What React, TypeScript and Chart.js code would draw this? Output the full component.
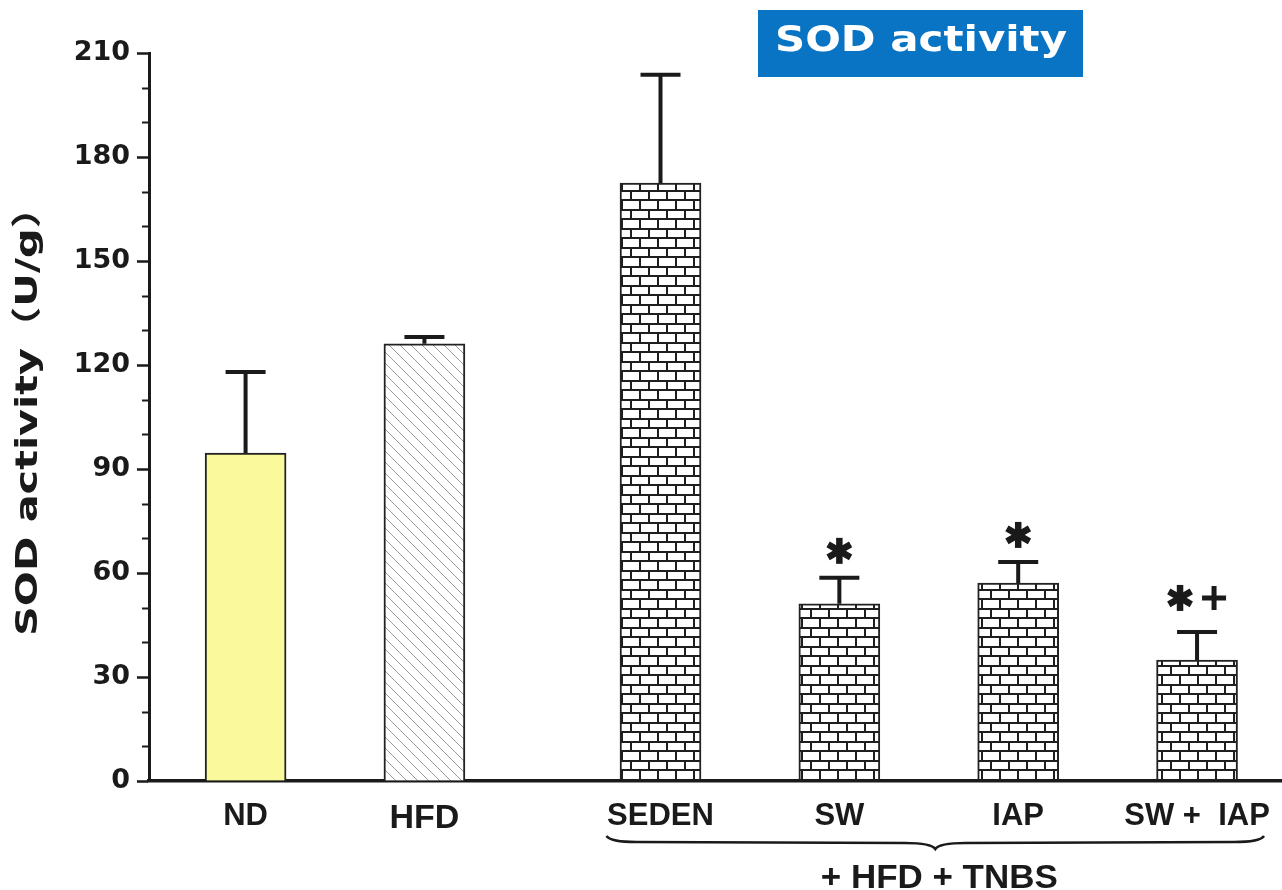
import { useEffect, useRef } from "react";
import { Chart, registerables } from "chart.js";

Chart.register(...registerables);

// Group names and their positions on the (linear) x scale
const groups = ["ND", "HFD", "SEDEN", "SW", "IAP", "SW +  IAP"];
const groupPositions = [0, 1, 2.32, 3.32, 4.32, 5.32];

// SOD activity (U/g): mean and error (upper SD bar)
const sodMeans = [94.6, 126.1, 172.5, 51.1, 57.1, 34.9];
const sodErrors = [23.4, 2.0, 31.2, 7.5, 6.1, 8.1];

// Significance markers above each group
const significance = ["", "", "", "*", "*", "*+"];

const yTicks = [0, 30, 60, 90, 120, 150, 180, 210];
const yMinorStep = 10;

const treatmentLabel = "+ HFD + TNBS";
const yTitle = "SOD activity（U/g）";
const chartTitle = "SOD activity";

const INK = "#1a1a1a";
const SANS = "'Liberation Sans', Arial, sans-serif";
const WIDE = "'DejaVu Sans', 'Noto Sans CJK SC', sans-serif";

function makeHatch(): CanvasPattern | string {
  const c = document.createElement("canvas");
  c.width = 11;
  c.height = 11;
  const g = c.getContext("2d")!;
  g.fillStyle = "#ffffff";
  g.fillRect(0, 0, 11, 11);
  g.strokeStyle = "#9a9a9a";
  g.lineWidth = 1;
  g.beginPath();
  g.moveTo(-1, -1);
  g.lineTo(12, 12);
  g.moveTo(-12, -1);
  g.lineTo(1, 12);
  g.moveTo(10, -1);
  g.lineTo(23, 12);
  g.stroke();
  return g.createPattern(c, "repeat") || "#ffffff";
}

function makeBricks(): CanvasPattern | string {
  const w = 36;
  const h = 19;
  const c = document.createElement("canvas");
  c.width = w;
  c.height = h;
  const g = c.getContext("2d")!;
  g.fillStyle = "#ffffff";
  g.fillRect(0, 0, w, h);
  g.fillStyle = "#1e1e1e";
  // mortar rows
  g.fillRect(0, 0, w, 2);
  g.fillRect(0, 9, w, 2);
  // joints, staggered by half a brick
  g.fillRect(0, 0, 2, 9);
  g.fillRect(18, 0, 2, 9);
  g.fillRect(9, 9, 2, 10);
  g.fillRect(27, 9, 2, 10);
  return g.createPattern(c, "repeat") || "#ffffff";
}

function drawAsterisk(ctx: CanvasRenderingContext2D, cx: number, cy: number) {
  const r = 13;
  ctx.save();
  ctx.strokeStyle = INK;
  ctx.lineWidth = 6.5;
  ctx.lineCap = "butt";
  for (const deg of [90, 30, 150]) {
    const a = (deg * Math.PI) / 180;
    ctx.beginPath();
    ctx.moveTo(cx - r * Math.cos(a), cy - r * Math.sin(a));
    ctx.lineTo(cx + r * Math.cos(a), cy + r * Math.sin(a));
    ctx.stroke();
  }
  ctx.restore();
}

function drawPlus(ctx: CanvasRenderingContext2D, cx: number, cy: number) {
  const r = 12;
  ctx.save();
  ctx.strokeStyle = INK;
  ctx.lineWidth = 5;
  ctx.beginPath();
  ctx.moveTo(cx - r, cy);
  ctx.lineTo(cx + r, cy);
  ctx.moveTo(cx, cy - r);
  ctx.lineTo(cx, cy + r);
  ctx.stroke();
  ctx.restore();
}

function stretchedText(
  ctx: CanvasRenderingContext2D,
  text: string,
  x: number,
  y: number,
  targetWidth: number,
  align: "left" | "center"
) {
  const w = ctx.measureText(text).width;
  const sx = targetWidth / w;
  ctx.save();
  ctx.translate(x, y);
  ctx.scale(sx, 1);
  ctx.textAlign = align;
  ctx.fillText(text, 0, 0);
  ctx.restore();
}

const overlayPlugin = {
  id: "sodOverlay",
  afterDatasetsDraw(chart: any) {
    const ctx: CanvasRenderingContext2D = chart.ctx;
    const xs = chart.scales.x;
    const ys = chart.scales.y;

    // minor ticks on the y axis
    ctx.save();
    ctx.strokeStyle = INK;
    ctx.lineWidth = 2;
    for (let v = ys.min; v <= ys.max; v += yMinorStep) {
      if (yTicks.includes(v)) continue;
      const py = Math.round(ys.getPixelForValue(v)) + 0.5;
      ctx.beginPath();
      ctx.moveTo(ys.right - 7, py);
      ctx.lineTo(ys.right, py);
      ctx.stroke();
    }
    ctx.restore();

    // error bars (upper only) and significance markers
    ctx.save();
    ctx.strokeStyle = INK;
    ctx.lineWidth = 4;
    groupPositions.forEach((pos, i) => {
      const cx = xs.getPixelForValue(pos);
      const yBar = ys.getPixelForValue(sodMeans[i]);
      const yErr = ys.getPixelForValue(sodMeans[i] + sodErrors[i]);
      ctx.beginPath();
      ctx.moveTo(cx, yBar);
      ctx.lineTo(cx, yErr);
      ctx.moveTo(cx - 20, yErr);
      ctx.lineTo(cx + 20, yErr);
      ctx.stroke();

      const marks = significance[i];
      if (marks) {
        const n = marks.length;
        const cy = yErr - 27 - 7 * (n - 1);
        for (let k = 0; k < n; k++) {
          const mx = cx + (k - (n - 1) / 2) * 34;
          if (marks[k] === "*") drawAsterisk(ctx, mx, cy);
          else drawPlus(ctx, mx, cy);
        }
      }
    });
    ctx.restore();
  },
  afterDraw(chart: any) {
    const ctx: CanvasRenderingContext2D = chart.ctx;
    const xs = chart.scales.x;
    const area = chart.chartArea;

    // brace under the treated groups
    const left = xs.getPixelForValue(groupPositions[2]) - 54;
    const right = xs.getPixelForValue(groupPositions[groupPositions.length - 1]) + 67;
    const mid = (left + right) / 2;
    const yEnd = 836;
    const yLine = 842;
    const yTip = 849;
    ctx.save();
    ctx.strokeStyle = INK;
    ctx.lineWidth = 2.5;
    ctx.beginPath();
    ctx.moveTo(left, yEnd);
    ctx.quadraticCurveTo(left + 4, yLine, left + 30, yLine);
    ctx.lineTo(mid - 30, yLine + 1);
    ctx.quadraticCurveTo(mid - 4, yLine + 1, mid, yTip);
    ctx.quadraticCurveTo(mid + 4, yLine + 1, mid + 30, yLine + 1);
    ctx.lineTo(right - 30, yLine);
    ctx.quadraticCurveTo(right - 4, yLine, right, yEnd);
    ctx.stroke();

    // treatment label
    ctx.fillStyle = INK;
    ctx.font = `bold 33px ${SANS}`;
    ctx.textBaseline = "alphabetic";
    stretchedText(ctx, treatmentLabel, mid + 4, 888, 237, "center");
    ctx.restore();

    // y axis title, rotated
    ctx.save();
    ctx.fillStyle = INK;
    ctx.font = `bold 30px ${WIDE}`;
    ctx.textBaseline = "alphabetic";
    ctx.translate(37, (area.top + area.bottom) / 2 - 5.5);
    ctx.rotate(-Math.PI / 2);
    stretchedText(ctx, yTitle, 0, 0, 449, "center");
    ctx.restore();

    // title box
    ctx.save();
    ctx.fillStyle = "#0a74c4";
    ctx.fillRect(758, 10, 325, 67);
    ctx.fillStyle = "#ffffff";
    ctx.font = `bold 35px ${WIDE}`;
    ctx.textBaseline = "alphabetic";
    stretchedText(ctx, chartTitle, 775, 51, 292, "left");
    ctx.restore();
  },
};

export default function App() {
  const canvasRef = useRef<HTMLCanvasElement | null>(null);

  useEffect(() => {
    const canvas = canvasRef.current;
    if (!canvas) return;

    const hatch = makeHatch();
    const bricks = makeBricks();
    const fills = groups.map((_, i) => (i === 0 ? "#fafa9c" : i === 1 ? hatch : bricks));

    const chart = new Chart(canvas, {
      type: "bar",
      data: {
        datasets: [
          {
            label: "SOD activity",
            data: groupPositions.map((x, i) => ({ x, y: sodMeans[i] })),
            backgroundColor: fills as any,
            borderColor: "#222222",
            borderWidth: 2,
            barThickness: 81,
          },
        ],
      },
      options: {
        responsive: false,
        animation: false,
        events: [],
        layout: { padding: { top: 53, right: 0, bottom: 0, left: 0 } },
        plugins: {
          legend: { display: false },
          tooltip: { enabled: false },
          title: { display: false },
        },
        scales: {
          x: {
            type: "linear",
            min: -0.54,
            max: 5.795,
            offset: false,
            afterBuildTicks: (scale: any) => {
              scale.ticks = groupPositions.map((value) => ({ value }));
            },
            afterFit: (scale: any) => {
              scale.height = 109;
              scale.paddingLeft = 0;
              scale.paddingRight = 0;
            },
            grid: { display: false, drawTicks: false },
            border: { display: true, color: INK, width: 3.5 },
            ticks: {
              autoSkip: false,
              maxRotation: 0,
              minRotation: 0,
              padding: 17,
              color: INK,
              font: (c: any) => ({
                family: SANS,
                weight: "bold",
                size: c.index === 1 ? 34 : 31,
              }),
              callback: (_v: any, index: number) => groups[index],
            },
          },
          y: {
            min: yTicks[0],
            max: yTicks[yTicks.length - 1],
            afterBuildTicks: (scale: any) => {
              scale.ticks = yTicks.map((value) => ({ value }));
            },
            afterFit: (scale: any) => {
              scale.width = 149;
              scale.paddingTop = 0;
              scale.paddingBottom = 0;
            },
            grid: {
              drawOnChartArea: false,
              drawTicks: true,
              tickLength: 12,
              tickWidth: 2.5,
              tickColor: INK,
            },
            border: { display: true, color: INK, width: 3 },
            ticks: {
              padding: 7,
              color: INK,
              font: { family: WIDE, weight: "bold", size: 27 },
              callback: (v: any) => String(v),
            },
          },
        },
      },
      plugins: [overlayPlugin],
    });

    return () => chart.destroy();
  }, []);

  return (
    <div style={{ position: "fixed", left: 0, top: 0, width: 1282, height: 890, background: "#ffffff" }}>
      <canvas ref={canvasRef} width={1282} height={890} style={{ display: "block" }} />
    </div>
  );
}
